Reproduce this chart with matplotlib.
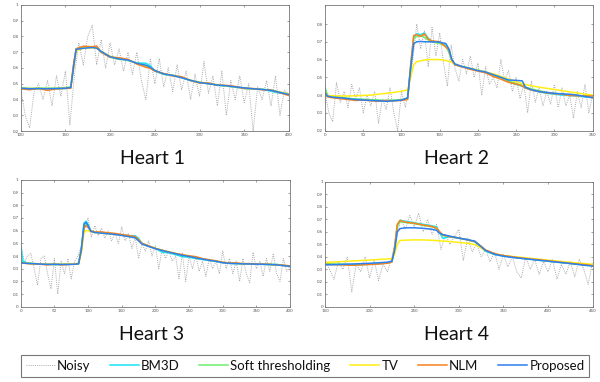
import matplotlib
matplotlib.use("Agg")
import matplotlib.pyplot as plt
from matplotlib.ticker import FuncFormatter

plt.rcParams['font.family'] = ['Lato', 'DejaVu Sans']

# ---------------- data ----------------
methods = ["Noisy", "BM3D", "Soft thresholding", "TV", "NLM", "Proposed"]
titles = ["Heart 1", "Heart 2", "Heart 3", "Heart 4"]

# Heart 1
h1_noisy_x = list(range(100, 401, 5))
h1_noisy = [0.47, 0.30, 0.22, 0.45, 0.50, 0.40, 0.52, 0.36, 0.55, 0.42, 0.58, 0.24, 0.55,
            0.76, 0.62, 0.80, 0.87, 0.62, 0.78, 0.60, 0.76, 0.62, 0.72, 0.58, 0.70, 0.56,
            0.70, 0.52, 0.40, 0.66, 0.50, 0.66, 0.48, 0.60, 0.45, 0.62, 0.46, 0.58, 0.40,
            0.56, 0.42, 0.64, 0.44, 0.55, 0.36, 0.58, 0.30, 0.52, 0.40, 0.55, 0.38, 0.50,
            0.20, 0.48, 0.40, 0.52, 0.36, 0.55, 0.30, 0.46, 0.43]
h1_x = [100, 110, 120, 130, 140, 150, 156, 159, 162, 170, 180, 185, 190, 200, 210, 220, 230,
        240, 245, 250, 260, 270, 280, 290, 300, 310, 320, 330, 340, 350, 360, 370, 380, 390, 400]
h1_bm3d = [0.47, 0.47, 0.468, 0.472, 0.468, 0.47, 0.475, 0.61, 0.72, 0.735, 0.735, 0.728, 0.70,
           0.67, 0.66, 0.648, 0.632, 0.63, 0.615, 0.58, 0.56, 0.552, 0.54, 0.52, 0.51, 0.503,
           0.49, 0.485, 0.478, 0.47, 0.468, 0.466, 0.452, 0.44, 0.435]
h1_soft = [0.475, 0.47, 0.472, 0.47, 0.472, 0.476, 0.48, 0.60, 0.715, 0.73, 0.732, 0.727, 0.703,
           0.668, 0.655, 0.652, 0.628, 0.612, 0.60, 0.583, 0.56, 0.555, 0.54, 0.52, 0.507, 0.50,
           0.494, 0.486, 0.48, 0.472, 0.467, 0.465, 0.46, 0.447, 0.436]
h1_tv = [0.47, 0.47, 0.47, 0.47, 0.47, 0.472, 0.474, 0.59, 0.71, 0.725, 0.728, 0.725, 0.705,
         0.675, 0.66, 0.65, 0.63, 0.615, 0.603, 0.585, 0.563, 0.553, 0.54, 0.523, 0.51, 0.502,
         0.493, 0.487, 0.48, 0.473, 0.468, 0.464, 0.458, 0.446, 0.434]
h1_nlm = [0.468, 0.462, 0.47, 0.458, 0.468, 0.47, 0.472, 0.62, 0.722, 0.738, 0.735, 0.74, 0.70,
          0.668, 0.665, 0.655, 0.625, 0.605, 0.598, 0.58, 0.565, 0.55, 0.545, 0.52, 0.505, 0.505,
          0.49, 0.49, 0.483, 0.47, 0.47, 0.462, 0.46, 0.443, 0.425]
h1_prop = [0.472, 0.468, 0.47, 0.468, 0.47, 0.472, 0.476, 0.60, 0.718, 0.725, 0.73, 0.726, 0.705,
           0.672, 0.657, 0.65, 0.63, 0.618, 0.605, 0.585, 0.562, 0.553, 0.538, 0.522, 0.508, 0.50,
           0.492, 0.487, 0.48, 0.474, 0.468, 0.464, 0.458, 0.445, 0.432]

# Heart 2
h2_noisy_x = list(range(0, 351, 5))
h2_noisy = [0.42, 0.30, 0.25, 0.47, 0.36, 0.42, 0.33, 0.46, 0.38, 0.44, 0.30, 0.40, 0.34, 0.42,
            0.24, 0.38, 0.32, 0.44, 0.30, 0.20, 0.42, 0.33, 0.45, 0.60, 0.80, 0.66, 0.76, 0.56,
            0.78, 0.62, 0.75, 0.58, 0.45, 0.68, 0.55, 0.48, 0.60, 0.52, 0.62, 0.50, 0.58, 0.40,
            0.56, 0.46, 0.50, 0.44, 0.60, 0.48, 0.54, 0.42, 0.50, 0.38, 0.46, 0.30, 0.48, 0.36,
            0.44, 0.34, 0.42, 0.35, 0.46, 0.33, 0.44, 0.34, 0.40, 0.27, 0.42, 0.33, 0.46, 0.30, 0.40]
h2_x = [0, 3, 10, 20, 30, 40, 50, 60, 70, 80, 90, 100, 108, 112, 116, 120, 125, 130, 135, 140,
        150, 158, 162, 166, 170, 180, 190, 200, 210, 220, 230, 240, 250, 258, 262, 270, 280, 290,
        300, 310, 320, 330, 340, 350]
h2_bm3d = [0.44, 0.40, 0.39, 0.385, 0.38, 0.378, 0.375, 0.372, 0.37, 0.368, 0.37, 0.372, 0.378,
           0.56, 0.73, 0.745, 0.74, 0.75, 0.72, 0.70, 0.695, 0.68, 0.65, 0.59, 0.57, 0.56, 0.548,
           0.54, 0.528, 0.51, 0.495, 0.475, 0.46, 0.45, 0.44, 0.43, 0.418, 0.41, 0.405, 0.40,
           0.397, 0.395, 0.39, 0.39]
h2_soft = [0.445, 0.395, 0.39, 0.387, 0.382, 0.378, 0.376, 0.374, 0.372, 0.37, 0.372, 0.375, 0.38,
           0.55, 0.72, 0.73, 0.735, 0.725, 0.71, 0.70, 0.69, 0.675, 0.64, 0.59, 0.572, 0.56, 0.55,
           0.54, 0.53, 0.512, 0.497, 0.48, 0.465, 0.455, 0.445, 0.435, 0.425, 0.415, 0.41, 0.405,
           0.40, 0.398, 0.395, 0.392]
h2_tv = [0.40, 0.398, 0.396, 0.395, 0.395, 0.396, 0.398, 0.40, 0.405, 0.41, 0.415, 0.422, 0.43,
         0.50, 0.57, 0.588, 0.593, 0.597, 0.60, 0.60, 0.60, 0.595, 0.59, 0.585, 0.575, 0.56, 0.55,
         0.54, 0.53, 0.52, 0.505, 0.49, 0.475, 0.465, 0.46, 0.452, 0.445, 0.438, 0.432, 0.425,
         0.418, 0.412, 0.405, 0.40]
h2_nlm = [0.42, 0.39, 0.385, 0.38, 0.375, 0.37, 0.372, 0.368, 0.365, 0.37, 0.368, 0.37, 0.375,
          0.57, 0.735, 0.74, 0.73, 0.745, 0.715, 0.705, 0.70, 0.67, 0.655, 0.595, 0.57, 0.558,
          0.545, 0.535, 0.525, 0.505, 0.49, 0.472, 0.462, 0.452, 0.44, 0.428, 0.42, 0.412, 0.408,
          0.405, 0.398, 0.396, 0.395, 0.395]
h2_prop = [0.41, 0.395, 0.388, 0.385, 0.38, 0.375, 0.372, 0.37, 0.368, 0.365, 0.368, 0.372, 0.385,
           0.55, 0.69, 0.70, 0.702, 0.70, 0.70, 0.70, 0.698, 0.69, 0.66, 0.60, 0.575, 0.56, 0.55,
           0.538, 0.53, 0.515, 0.50, 0.485, 0.483, 0.48, 0.445, 0.43, 0.42, 0.415, 0.41, 0.407,
           0.405, 0.40, 0.392, 0.385]

# Heart 3
h3_noisy_x = list(range(0, 401, 5))
h3_noisy = [0.50, 0.35, 0.40, 0.42, 0.30, 0.17, 0.38, 0.40, 0.26, 0.14, 0.38, 0.10, 0.36, 0.26,
            0.38, 0.22, 0.36, 0.40, 0.48, 0.62, 0.70, 0.55, 0.64, 0.56, 0.62, 0.54, 0.60, 0.52,
            0.58, 0.50, 0.63, 0.52, 0.58, 0.46, 0.55, 0.38, 0.50, 0.44, 0.52, 0.40, 0.48, 0.30,
            0.46, 0.38, 0.44, 0.36, 0.40, 0.22, 0.42, 0.20, 0.40, 0.30, 0.40, 0.28, 0.36, 0.24,
            0.38, 0.30, 0.36, 0.26, 0.44, 0.30, 0.38, 0.26, 0.36, 0.20, 0.38, 0.26, 0.19, 0.43,
            0.30, 0.36, 0.24, 0.38, 0.28, 0.42, 0.26, 0.20, 0.38, 0.28, 0.32]
h3_x = [0, 3, 10, 20, 30, 40, 50, 60, 70, 80, 86, 90, 94, 97, 100, 104, 110, 120, 130, 140, 150,
        160, 170, 175, 180, 190, 200, 210, 220, 230, 240, 250, 260, 270, 280, 290, 300, 310, 320,
        330, 340, 350, 360, 370, 380, 390, 400]
h3_bm3d = [0.50, 0.36, 0.345, 0.338, 0.335, 0.333, 0.332, 0.333, 0.334, 0.336, 0.34, 0.46, 0.66,
           0.675, 0.65, 0.60, 0.59, 0.585, 0.578, 0.572, 0.565, 0.56, 0.56, 0.54, 0.50, 0.478, 0.46,
           0.43, 0.425, 0.41, 0.395, 0.39, 0.38, 0.372, 0.365, 0.357, 0.348, 0.342, 0.34, 0.338,
           0.338, 0.335, 0.334, 0.332, 0.335, 0.325, 0.32]
h3_soft = [0.36, 0.348, 0.343, 0.34, 0.337, 0.336, 0.336, 0.336, 0.337, 0.338, 0.345, 0.44, 0.63,
           0.65, 0.63, 0.595, 0.588, 0.584, 0.58, 0.575, 0.566, 0.556, 0.548, 0.53, 0.50, 0.478,
           0.46, 0.445, 0.432, 0.42, 0.408, 0.398, 0.387, 0.377, 0.368, 0.36, 0.35, 0.344, 0.342,
           0.34, 0.338, 0.337, 0.336, 0.334, 0.331, 0.326, 0.32]
h3_tv = [0.345, 0.344, 0.342, 0.34, 0.338, 0.337, 0.336, 0.336, 0.337, 0.338, 0.34, 0.42, 0.585,
         0.60, 0.60, 0.59, 0.585, 0.58, 0.575, 0.57, 0.563, 0.555, 0.545, 0.525, 0.498, 0.477,
         0.46, 0.445, 0.432, 0.42, 0.407, 0.397, 0.387, 0.377, 0.368, 0.36, 0.35, 0.344, 0.341,
         0.339, 0.338, 0.337, 0.335, 0.333, 0.33, 0.325, 0.32]
h3_nlm = [0.35, 0.345, 0.34, 0.338, 0.335, 0.33, 0.335, 0.33, 0.333, 0.335, 0.34, 0.45, 0.62,
          0.64, 0.625, 0.60, 0.59, 0.59, 0.583, 0.578, 0.57, 0.562, 0.553, 0.53, 0.50, 0.48, 0.46,
          0.445, 0.432, 0.42, 0.41, 0.402, 0.395, 0.38, 0.37, 0.362, 0.35, 0.345, 0.345, 0.34,
          0.34, 0.337, 0.335, 0.335, 0.33, 0.328, 0.322]
h3_prop = [0.345, 0.345, 0.342, 0.34, 0.336, 0.335, 0.335, 0.334, 0.334, 0.335, 0.338, 0.45, 0.65,
           0.665, 0.64, 0.595, 0.585, 0.58, 0.575, 0.57, 0.562, 0.553, 0.543, 0.52, 0.495, 0.475,
           0.458, 0.443, 0.43, 0.418, 0.405, 0.396, 0.385, 0.375, 0.366, 0.358, 0.347, 0.342,
           0.34, 0.338, 0.337, 0.336, 0.335, 0.333, 0.33, 0.324, 0.318]

# Heart 4
h4_noisy_x = list(range(150, 451, 5))
h4_noisy = [0.38, 0.30, 0.22, 0.36, 0.30, 0.40, 0.12, 0.34, 0.28, 0.40, 0.23, 0.38, 0.21, 0.34,
            0.28, 0.40, 0.55, 0.70, 0.62, 0.73, 0.64, 0.75, 0.60, 0.70, 0.58, 0.66, 0.46, 0.58,
            0.50, 0.56, 0.62, 0.37, 0.55, 0.44, 0.50, 0.40, 0.46, 0.36, 0.44, 0.30, 0.42, 0.32,
            0.40, 0.28, 0.23, 0.40, 0.30, 0.38, 0.26, 0.36, 0.28, 0.38, 0.22, 0.34, 0.26, 0.36,
            0.24, 0.38, 0.30, 0.18, 0.36]
h4_x = [150, 160, 170, 180, 190, 200, 210, 220, 225, 228, 231, 234, 240, 250, 260, 270, 275, 278,
        282, 290, 300, 310, 318, 325, 330, 340, 350, 360, 370, 380, 390, 400, 410, 420, 430, 440, 450]
h4_bm3d = [0.34, 0.34, 0.338, 0.335, 0.338, 0.34, 0.345, 0.35, 0.36, 0.47, 0.65, 0.69, 0.685,
           0.672, 0.66, 0.648, 0.64, 0.60, 0.548, 0.56, 0.548, 0.535, 0.52, 0.475, 0.445, 0.418,
           0.405, 0.397, 0.388, 0.38, 0.372, 0.365, 0.357, 0.35, 0.342, 0.336, 0.33]
h4_soft = [0.345, 0.342, 0.34, 0.338, 0.34, 0.342, 0.346, 0.352, 0.36, 0.46, 0.64, 0.68, 0.675,
           0.665, 0.652, 0.64, 0.63, 0.60, 0.57, 0.562, 0.55, 0.535, 0.52, 0.48, 0.45, 0.42, 0.408,
           0.398, 0.39, 0.382, 0.374, 0.366, 0.358, 0.35, 0.343, 0.336, 0.33]
h4_tv = [0.355, 0.358, 0.362, 0.366, 0.37, 0.374, 0.378, 0.383, 0.386, 0.42, 0.50, 0.53, 0.533,
         0.535, 0.535, 0.532, 0.53, 0.528, 0.526, 0.522, 0.515, 0.508, 0.498, 0.47, 0.45, 0.425,
         0.41, 0.402, 0.395, 0.388, 0.38, 0.373, 0.366, 0.358, 0.352, 0.346, 0.34]
h4_nlm = [0.34, 0.337, 0.335, 0.332, 0.335, 0.338, 0.342, 0.348, 0.358, 0.48, 0.66, 0.69, 0.678,
          0.668, 0.655, 0.642, 0.63, 0.605, 0.575, 0.56, 0.55, 0.535, 0.522, 0.485, 0.455, 0.425,
          0.41, 0.40, 0.39, 0.382, 0.376, 0.368, 0.36, 0.352, 0.344, 0.338, 0.33]
h4_prop = [0.335, 0.337, 0.34, 0.342, 0.345, 0.348, 0.352, 0.357, 0.365, 0.45, 0.60, 0.625, 0.632,
           0.632, 0.628, 0.62, 0.612, 0.59, 0.578, 0.565, 0.55, 0.537, 0.525, 0.48, 0.45, 0.42,
           0.405, 0.395, 0.387, 0.38, 0.372, 0.365, 0.357, 0.35, 0.342, 0.333, 0.325]

x_limits = [(100, 400), (0, 350), (0, 400), (150, 450)]
y_limits = [(0.2, 1.0), (0.2, 0.905), (0.0, 1.0), (0.0, 1.0)]
x_ticks = [[100, 150, 200, 250, 300, 350, 400], [0, 50, 100, 150, 200, 250, 300, 350],
           [0, 50, 100, 150, 200, 250, 300, 350, 400], [150, 200, 250, 300, 350, 400, 450]]
y_ticks = [[0.2, 0.3, 0.4, 0.5, 0.6, 0.7, 0.8, 0.9, 1.0], [0.2, 0.3, 0.4, 0.5, 0.6, 0.7, 0.8],
           [0, 0.1, 0.2, 0.3, 0.4, 0.5, 0.6, 0.7, 0.8, 0.9, 1.0],
           [0, 0.1, 0.2, 0.3, 0.4, 0.5, 0.6, 0.7, 0.8, 0.9, 1.0]]

# ---------------- style ----------------
colors = {"Noisy": "#aaaaaa", "BM3D": "#19e6f5", "Soft thresholding": "#6fee6f",
          "TV": "#ffee11", "NLM": "#f7821e", "Proposed": "#2b80f0"}

panels = [
    (h1_noisy_x, h1_noisy, h1_x, [h1_bm3d, h1_soft, h1_tv, h1_nlm, h1_prop]),
    (h2_noisy_x, h2_noisy, h2_x, [h2_bm3d, h2_soft, h2_tv, h2_nlm, h2_prop]),
    (h3_noisy_x, h3_noisy, h3_x, [h3_bm3d, h3_soft, h3_tv, h3_nlm, h3_prop]),
    (h4_noisy_x, h4_noisy, h4_x, [h4_bm3d, h4_soft, h4_tv, h4_nlm, h4_prop]),
]

axes_rects = [
    (0.0345, 0.657, 0.447, 0.330),
    (0.5417, 0.658, 0.446, 0.328),
    (0.0345, 0.197, 0.449, 0.332),
    (0.5417, 0.197, 0.446, 0.327),
]
title_pos = [(152 / 600, 1 - 158 / 382), (456 / 600, 1 - 158 / 382),
             (152 / 600, 1 - 334 / 382), (456 / 600, 1 - 334 / 382)]

fig = plt.figure(figsize=(6.0, 3.82), dpi=100)
fmt = FuncFormatter(lambda v, p: f"{v:g}")

handles = []
for i, (nx, ny, sx, series) in enumerate(panels):
    ax = fig.add_axes(axes_rects[i])
    h, = ax.plot(nx, ny, linestyle=(0, (1, 1.2)), color=colors["Noisy"], lw=0.7)
    hs = [h]
    for name, vals in zip(methods[1:], series):
        hh, = ax.plot(sx, vals, color=colors[name], lw=1.1)
        hs.append(hh)
    if i == 0:
        handles = hs
    ax.set_xlim(*x_limits[i])
    ax.set_ylim(*y_limits[i])
    ax.set_xticks(x_ticks[i])
    ax.set_yticks(y_ticks[i])
    ax.xaxis.set_major_formatter(fmt)
    ax.yaxis.set_major_formatter(fmt)
    ax.tick_params(direction="in", length=1.5, width=0.4, labelsize=3.2, pad=1.5,
                   colors="#555555", top=True, right=True)
    for s in ax.spines.values():
        s.set_color("#777777")
        s.set_linewidth(0.6)
    fig.text(title_pos[i][0], title_pos[i][1], titles[i], ha="center", va="center",
             fontsize=14, color="#111111")

leg = fig.legend(handles, methods, loc="center", bbox_to_anchor=(305 / 600, 1 - 366 / 382),
                 ncol=6, fontsize=9.5, frameon=True, fancybox=False, edgecolor="#555555",
                 handlelength=2.2, handletextpad=0.15, columnspacing=1.5, borderpad=0.35)
leg.get_frame().set_linewidth(0.8)
for t in leg.get_texts():
    t.set_color("#111111")

fig.savefig("out.png", dpi=100)
